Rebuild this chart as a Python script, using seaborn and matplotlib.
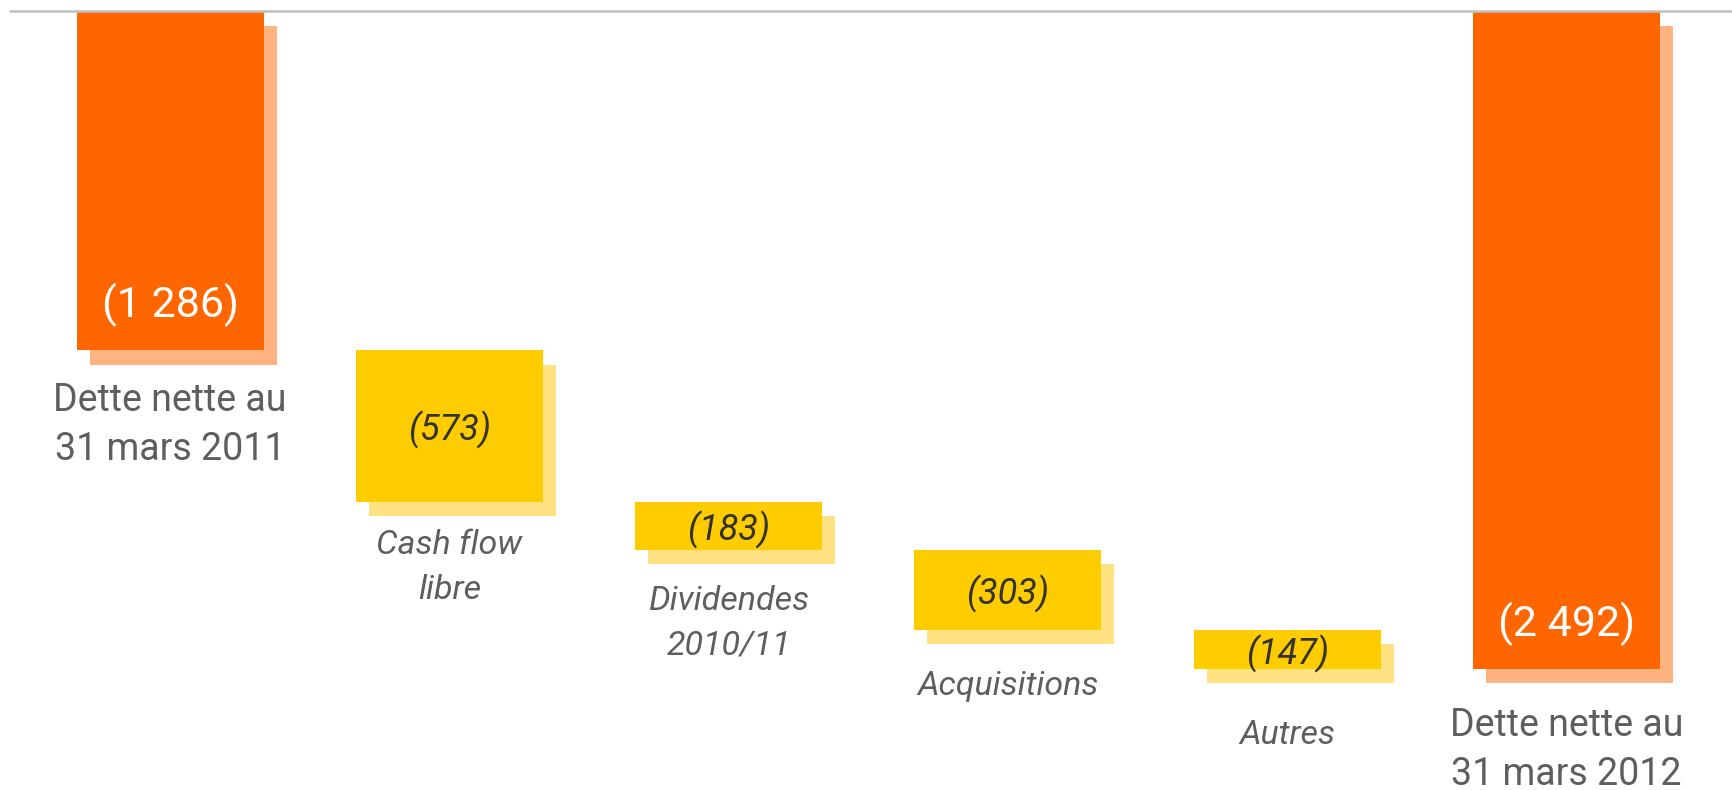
import numpy as np
import pandas as pd
import matplotlib
matplotlib.use("Agg")
import matplotlib.pyplot as plt
import matplotlib.transforms as mtransforms
import seaborn as sns

# ---------------- data ----------------
categories = [
    "Dette nette au\n31 mars 2011",
    "Cash flow\nlibre",
    "Dividendes\n2010/11",
    "Acquisitions",
    "Autres",
    "Dette nette au\n31 mars 2012",
]
amounts = [-1286, -573, -183, -303, -147, -2492]
is_total = [True, False, False, False, False, True]
value_labels = ["(1 286)", "(573)", "(183)", "(303)", "(147)", "(2 492)"]

# ---------------- style / layout ----------------
ORANGE, ORANGE_SH = "#FF6600", "#FFB380"
YELLOW, YELLOW_SH = "#FFCC00", "#FFE382"
CAT_COLOR = "#5e5e5e"
VAL_DARK = "#333333"
label_gap_px = [61, 52, 60, 65, 75, 67]   # first-line baseline below bar end
BAR_W = 0.6695
DPI = 100

sns.set_theme(style="white")
plt.rcParams["font.family"] = ["Roboto", "DejaVu Sans"]

# waterfall bottoms
bottoms = []
running = 0
for a, t in zip(amounts, is_total):
    if t:
        bottoms.append(0)
        running = a
    else:
        bottoms.append(running)
        running += a

df = pd.DataFrame({"category": categories, "amount": amounts, "bottom": bottoms})
main_colors = [ORANGE if t else YELLOW for t in is_total]
shadow_colors = [ORANGE_SH if t else YELLOW_SH for t in is_total]

fig = plt.figure(figsize=(1732 / DPI, 790 / DPI), dpi=DPI)
ax = fig.add_axes([0, 0, 1, 1])

# shadows
n0 = len(ax.patches)
sns.barplot(data=df, x="category", y="amount", order=categories,
            bottom=df["bottom"].to_numpy(), width=BAR_W, errorbar=None,
            color=ORANGE_SH, saturation=1,
            facecolor=shadow_colors, edgecolor="none", linewidth=0, ax=ax)
shift = mtransforms.ScaledTranslation(13 / DPI, -14.5 / DPI, fig.dpi_scale_trans)
for p in ax.patches[n0:]:
    p.set_transform(p.get_data_transform() + shift)

# main bars
sns.barplot(data=df, x="category", y="amount", order=categories,
            bottom=df["bottom"].to_numpy(), width=BAR_W, errorbar=None,
            color=ORANGE, saturation=1,
            facecolor=main_colors, edgecolor="none", linewidth=0, ax=ax)

ax.set_xlim(-0.6087, 5.5926)
ax.set_ylim(-2951.6, 41.7)
ax.axis("off")

# top reference line
ax.axhline(0, xmin=10 / 1732, xmax=1, color="#c0c0c0", lw=1.8, zorder=5)

for i, (cat, amt, bot, tot, vl) in enumerate(zip(categories, amounts, bottoms, is_total, value_labels)):
    end = bot + amt
    lines = cat.split("\n")
    if tot:
        ax.annotate(vl, (i, end), xytext=(0, 33), textcoords="offset pixels",
                    ha="center", va="baseline", color="white", fontsize=31)
        for k, ln in enumerate(lines):
            ax.annotate(ln, (i, end), xytext=(0, -(label_gap_px[i] + 49 * k)),
                        textcoords="offset pixels", ha="center", va="baseline",
                        color=CAT_COLOR, fontsize=27)
    else:
        ax.annotate(vl, (i, bot + amt / 2), xytext=(0, 0), textcoords="offset pixels",
                    ha="center", va="center_baseline", color=VAL_DARK, fontsize=26,
                    style="italic")
        for k, ln in enumerate(lines):
            ax.annotate(ln, (i, end), xytext=(0, -(label_gap_px[i] + 45 * k)),
                        textcoords="offset pixels", ha="center", va="baseline",
                        color=CAT_COLOR, fontsize=24.5, style="italic")

fig.savefig("out.png", dpi=DPI)
